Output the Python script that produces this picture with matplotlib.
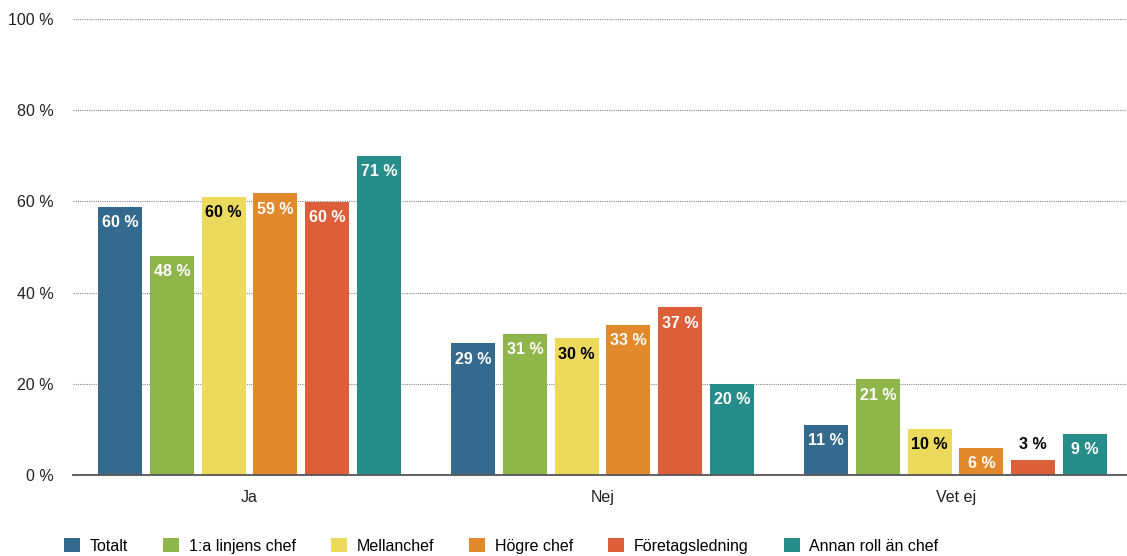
import matplotlib.pyplot as plt
import numpy as np

plt.rcParams['font.family'] = ['Liberation Sans', 'DejaVu Sans']

categories = ['Ja', 'Nej', 'Vet ej']
series = ['Totalt', '1:a linjens chef', 'Mellanchef', 'Högre chef',
          'Företagsledning', 'Annan roll än chef']
colors = ['#336a8e', '#8fb64a', '#ebda5c', '#e2892b', '#dc5f3a', '#278d8b']

# bar heights as drawn (per series, one value per category)
heights = [
    [58.8, 28.9, 11.0],
    [48.0, 30.9, 21.0],
    [61.0, 30.0, 10.1],
    [61.8, 32.9, 5.9],
    [59.9, 36.8, 3.3],
    [70.0, 20.0, 9.0],
]
# printed labels
labels = [
    [60, 29, 11],
    [48, 31, 21],
    [60, 30, 10],
    [59, 33, 6],
    [60, 37, 3],
    [71, 20, 9],
]

fig = plt.figure(figsize=(11.27, 5.56), dpi=100)
ax = fig.add_axes([0.0648, 0.1457, 0.9397, 0.8201])

x = np.arange(len(categories))
step = 0.1467
width = 0.1246
for i, name in enumerate(series):
    pos = x + (i - 2.5) * step
    bars = ax.bar(pos, heights[i], width, color=colors[i], label=name, zorder=3)
    for b, h, lab in zip(bars, heights[i], labels[i]):
        cx = b.get_x() + b.get_width() / 2
        if h < 5:
            ax.annotate(f'{lab} %', (cx, h), xytext=(0, 6), textcoords='offset points',
                        ha='center', va='bottom', fontsize=11.5, fontweight='bold',
                        color='black', zorder=4)
        else:
            tc = 'black' if i == 2 else 'white'
            ax.annotate(f'{lab} %', (cx, h), xytext=(0, -6), textcoords='offset points',
                        ha='center', va='top', fontsize=11.5, fontweight='bold',
                        color=tc, zorder=4)

ax.set_xlim(-0.5, 2.5)
ax.set_ylim(0, 100)
ax.set_yticks(range(0, 101, 20))
ax.set_yticklabels([f'{v} %' for v in range(0, 101, 20)])
ax.set_xticks(x)
ax.set_xticklabels(categories)
ax.tick_params(axis='both', length=0, labelsize=11.5, colors='#222222')
ax.tick_params(axis='y', pad=14)
ax.tick_params(axis='x', pad=11)
for s in ['top', 'right', 'left']:
    ax.spines[s].set_visible(False)
ax.spines['bottom'].set_color('#555555')
ax.spines['bottom'].set_linewidth(1.3)
ax.spines['bottom'].set_zorder(5)
ax.yaxis.grid(True, linestyle=(0, (1, 1)), color='#888888', linewidth=0.8, zorder=0)

fig.legend(loc='lower left', bbox_to_anchor=(0.0515, -0.007), ncol=6, frameon=False,
           fontsize=11.5, handlelength=1.0, handleheight=1.0, handletextpad=0.6,
           columnspacing=2.2, borderaxespad=0)

fig.savefig('out.png', dpi=100)
